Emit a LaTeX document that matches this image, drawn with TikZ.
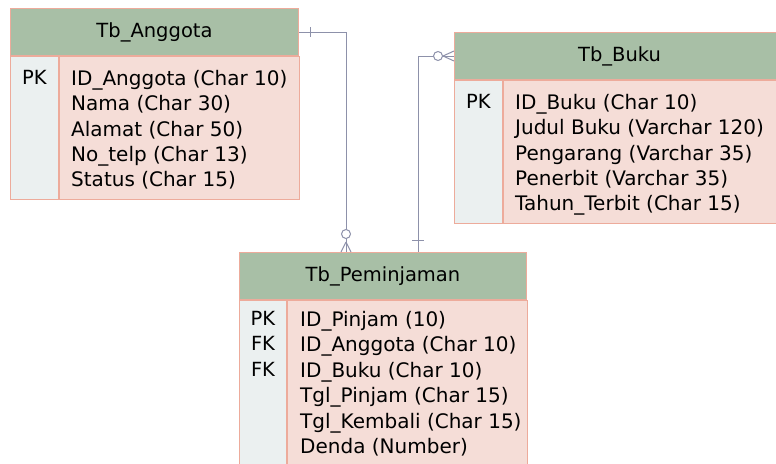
\documentclass[tikz,border=0pt]{standalone}
\usepackage{fontspec}
\setmainfont{DejaVu Sans}
\usetikzlibrary{positioning}
\definecolor{headgreen}{HTML}{A8BFA6}
\definecolor{rowpink}{HTML}{F5DDD7}
\definecolor{keygrey}{HTML}{EBF0F0}
\definecolor{edgesalmon}{HTML}{EDAB9B}
\definecolor{relgrey}{HTML}{8D91AA}

\begin{document}
\begin{tikzpicture}[x=1pt, y=-1pt,
      tabhead/.style={rectangle, draw=edgesalmon, fill=headgreen, line width=1pt, anchor=north west, minimum height=47pt, inner sep=0pt, font=\fontsize{19.5}{25.4}\selectfont},
      keycol/.style={rectangle, draw=edgesalmon, fill=keygrey, line width=1pt, anchor=north west, inner sep=0pt},
      fieldcol/.style={rectangle, draw=edgesalmon, fill=rowpink, line width=1pt, anchor=north west, inner sep=0pt},
      rows/.style={anchor=north west, align=left, inner sep=0pt, font=\fontsize{20}{25.4}\selectfont},
      keys/.style={anchor=north, align=center, inner sep=0pt, font=\fontsize{19.5}{25.4}\selectfont},
      rel/.style={draw=relgrey, line width=1pt}]

      \useasboundingbox (0,0) rectangle (776,463);
      \clip (0,0) rectangle (776,463);

      \node[tabhead, minimum width=288pt] (angH) at (10,8) {Tb\_Anggota};
      \node[keycol, minimum width=48pt, minimum height=143pt] (angK) at (angH.south west) {};
      \node[fieldcol, minimum width=240pt, minimum height=143pt] (angF) at (angK.north east) {};
      \node[keys] (angP) at ([yshift=-14pt]angK.north) {PK};
      \node[rows] (angT) at ([shift={(12,14)}]angF.north west) {ID\_Anggota (Char 10)\\Nama (Char 30)\\Alamat (Char 50)\\No\_telp (Char 13)\\Status (Char 15)};

      \node[tabhead, minimum width=330pt] (bukH) at (454,32) {Tb\_Buku};
      \node[keycol, minimum width=48pt, minimum height=143pt] (bukK) at (bukH.south west) {};
      \node[fieldcol, minimum width=282pt, minimum height=143pt] (bukF) at (bukK.north east) {};
      \node[keys] (bukP) at ([yshift=-14pt]bukK.north) {PK};
      \node[rows] (bukT) at ([shift={(12,14)}]bukF.north west) {ID\_Buku (Char 10)\\Judul Buku (Varchar 120)\\Pengarang (Varchar 35)\\Penerbit (Varchar 35)\\Tahun\_Terbit (Char 15)};

      \node[tabhead, minimum width=287pt] (pemH) at (239,252) {Tb\_Peminjaman};
      \node[keycol, minimum width=47pt, minimum height=190pt] (pemK) at (pemH.south west) {};
      \node[fieldcol, minimum width=240pt, minimum height=190pt] (pemF) at (pemK.north east) {};
      \node[keys] (pemP) at ([yshift=-11pt]pemK.north) {PK\\FK\\FK};
      \node[rows] (pemT) at ([shift={(13,11)}]pemF.north west) {ID\_Pinjam (10)\\ID\_Anggota (Char 10)\\ID\_Buku (Char 10)\\Tgl\_Pinjam (Char 15)\\Tgl\_Kembali (Char 15)\\Denda (Number)};

      \coordinate (pemA) at ([xshift=107pt]pemH.north west);
      \coordinate (pemB) at ([xshift=179pt]pemH.north west);

      \draw[rel] (angH.east) -| (pemA);
      \draw[rel] ([xshift=11pt]angH.east) ++(0,-5) -- ++(0,10);
      \draw[rel] ([yshift=10pt]pemA) -- ([xshift=-5pt]pemA) ([yshift=10pt]pemA) -- ([xshift=5pt]pemA);
      \draw[rel, fill=white] ([yshift=18pt]pemA) circle (4.5pt);

      \draw[rel] (bukH.west) -| (pemB);
      \draw[rel] ([yshift=12pt]pemB) ++(-6,0) -- ++(12,0);
      \draw[rel] ([xshift=-11pt]bukH.west) -- ([yshift=5pt]bukH.west) ([xshift=-11pt]bukH.west) -- ([yshift=-5pt]bukH.west);
      \draw[rel, fill=white] ([xshift=-16pt]bukH.west) circle (4.5pt);

    \end{tikzpicture}
\end{document}
